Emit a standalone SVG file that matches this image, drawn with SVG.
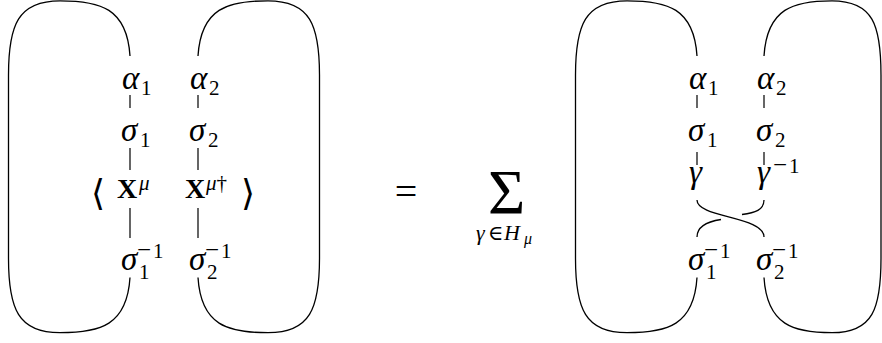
<svg xmlns="http://www.w3.org/2000/svg" width="882" height="343" viewBox="0 0 882 343">
<style>
text{font-family:"Liberation Serif","DejaVu Serif",serif;fill:#000}
.m{font-style:italic;font-size:33px}
.r{font-style:normal}
.s{font-size:21px}
.mn{font-size:25px}
.b{font-weight:bold;font-style:normal;font-size:28px}
.d{font-family:"DejaVu Sans",sans-serif;font-size:36px}
.ln{stroke:#000;stroke-width:1.3;fill:none}
.tk{stroke:#000;stroke-width:1.2;fill:none}
</style>
<defs>
<path id="loop" d="M130,56 C127,8 100,0.8 60,0.8 C18,0.8 8.5,25 8.5,75 L8.5,258.5 C8.5,308.5 18,332.7 60,332.7 C100,332.7 127,325.5 130,277.5"/>
</defs>
<g id="connectors">
<use href="#loop" class="ln"/>
<use href="#loop" class="ln" transform="translate(328,0) scale(-1,1)"/>
<use href="#loop" class="ln" transform="translate(567,0)"/>
<path class="ln" d="M764,56 C767,8 794,0.8 832,0.8 C873,0.8 881,25 881,75 L881,258.5 C881,308.5 873,332.7 832,332.7 C794,332.7 767,325.5 764,277.5"/>
<path class="tk" d="M130,95V108M198,95V108M130,148V170M198,148V170M130,208V238M198,208V238"/>
<path class="tk" d="M697,95V108M764,95V108M697,152V165M764,152V165"/>
<path class="ln" d="M697,200 C697,218 764,216 764,237"/>
<path class="ln" d="M764,200 C764,210 755,213 742,214.5"/>
<path class="ln" d="M721,219.5 C708,221.5 697,226 697,237"/>
</g>
<g id="left-diagram">
<g id="a1"><text class="m" x="122" y="89">α<tspan class="r s" x="141" y="95">1</tspan></text></g>
<g id="a2"><text class="m" x="190" y="89">α<tspan class="r s" x="209" y="95">2</tspan></text></g>
<g id="s1"><text class="m" x="121" y="141">σ<tspan class="r s" x="140" y="147">1</tspan></text></g>
<g id="s2"><text class="m" x="189" y="141">σ<tspan class="r s" x="208" y="147">2</tspan></text></g>
<g id="X1"><text class="d" x="91" y="205">⟨</text><text class="b" x="117" y="198">X</text><text class="m s" x="139" y="190">μ</text></g>
<g id="X2"><text class="b" x="185" y="198">X</text><text class="m s" x="206" y="190">μ<tspan class="r">†</tspan></text><text class="d" x="241" y="205">⟩</text></g>
<g id="s1i"><text class="m" x="121" y="270">σ<tspan class="r s" x="139" y="279">1</tspan><tspan class="r mn" x="137" y="258">−</tspan><tspan class="r s" x="153" y="258">1</tspan></text></g>
<g id="s2i"><text class="m" x="189" y="270">σ<tspan class="r s" x="207" y="279">2</tspan><tspan class="r mn" x="205" y="258">−</tspan><tspan class="r s" x="221" y="258">1</tspan></text></g>
</g>
<g id="equals"><text class="r" x="406" y="205" text-anchor="middle" style="font-size:40px">=</text></g>
<g id="sum"><text class="r" x="506.5" y="214" text-anchor="middle" style="font-size:64px">Σ</text>
<text class="m" style="font-size:22px" x="476" y="240">γ</text><text class="r" style="font-size:21px" x="488" y="240">∈</text><text class="m" style="font-size:22px" x="504" y="240">H</text><text class="m" style="font-size:16px" x="524" y="244">μ</text></g>
<g id="right-diagram">
<g id="ra1"><text class="m" x="689" y="89">α<tspan class="r s" x="708" y="95">1</tspan></text></g>
<g id="ra2"><text class="m" x="757" y="89">α<tspan class="r s" x="776" y="95">2</tspan></text></g>
<g id="rs1"><text class="m" x="688" y="141">σ<tspan class="r s" x="707" y="147">1</tspan></text></g>
<g id="rs2"><text class="m" x="756" y="141">σ<tspan class="r s" x="775" y="147">2</tspan></text></g>
<g id="g1"><text class="m" x="689" y="183">γ</text></g>
<g id="g2"><text class="m" x="757" y="183">γ<tspan class="r mn" x="773" y="173">−</tspan><tspan class="r s" x="789" y="173">1</tspan></text></g>
<g id="rs1i"><text class="m" x="688" y="270">σ<tspan class="r s" x="706" y="279">1</tspan><tspan class="r mn" x="704" y="258">−</tspan><tspan class="r s" x="720" y="258">1</tspan></text></g>
<g id="rs2i"><text class="m" x="756" y="270">σ<tspan class="r s" x="774" y="279">2</tspan><tspan class="r mn" x="772" y="258">−</tspan><tspan class="r s" x="788" y="258">1</tspan></text></g>
</g>
</svg>
